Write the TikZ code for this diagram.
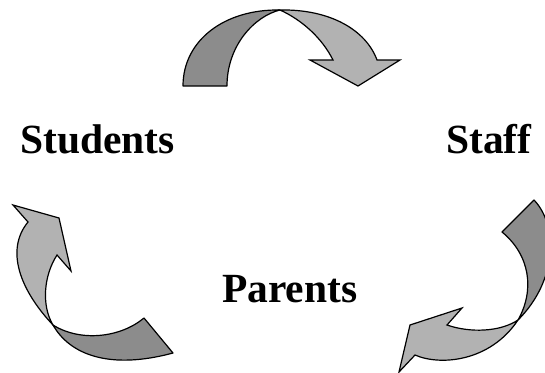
\documentclass[tikz,border=0pt]{standalone}
\usepackage{fontspec}
\setmainfont{Liberation Serif}
\tikzset{
  darkband/.style={fill=black!45, draw=black, line width=1.2pt, line join=round},
  lightband/.style={fill=black!30, draw=black, line width=1.2pt, line join=miter},
  lbl/.style={anchor=base west, inner sep=0pt, font=\fontsize{41.5}{48}\selectfont\bfseries}
}
\begin{document}
\begin{tikzpicture}[x=1pt, y=-1pt]
\useasboundingbox (0,0) rectangle (545,372);
\clip (0,0) rectangle (545,372);
% top arrow
\draw[darkband] (183,86) .. controls (183,40) and (225,9) .. (280,10)
  .. controls (255,16) and (227,45) .. (227,86) -- cycle;
\draw[lightband] (280,10) .. controls (330,9) and (366,30) .. (377,60)
  -- (400,60) -- (358,86) -- (310,60) -- (333,60)
  .. controls (322,38) and (302,20) .. (280,10) -- cycle;
% left arrow
\draw[lightband] (53,325) .. controls (20,290) and (5,250) .. (28,222)
  -- (13,205) -- (59,218) -- (71,271) -- (57,255)
  .. controls (44,275) and (41,305) .. (53,325) -- cycle;
\draw[darkband] (53,325) .. controls (70,355) and (110,370) .. (173,353)
  -- (144,318) .. controls (120,338) and (80,342) .. (53,325) -- cycle;
% right arrow
\draw[darkband] (534,200) .. controls (558,225) and (558,280) .. (518,320)
  .. controls (535,290) and (530,255) .. (502,232) -- cycle;
\draw[lightband] (518,320) .. controls (500,332) and (470,333) .. (447,325)
  -- (462,308) -- (410,325) -- (399,372) -- (415,355)
  .. controls (440,366) and (490,362) .. (518,320) -- cycle;
% labels
\node[lbl] (students) at (20,153) {Students};
\node[lbl] (staff) at (446,153) {Staff};
\node[lbl] (parents) at (222,302) {Parents};
\end{tikzpicture}
\end{document}
